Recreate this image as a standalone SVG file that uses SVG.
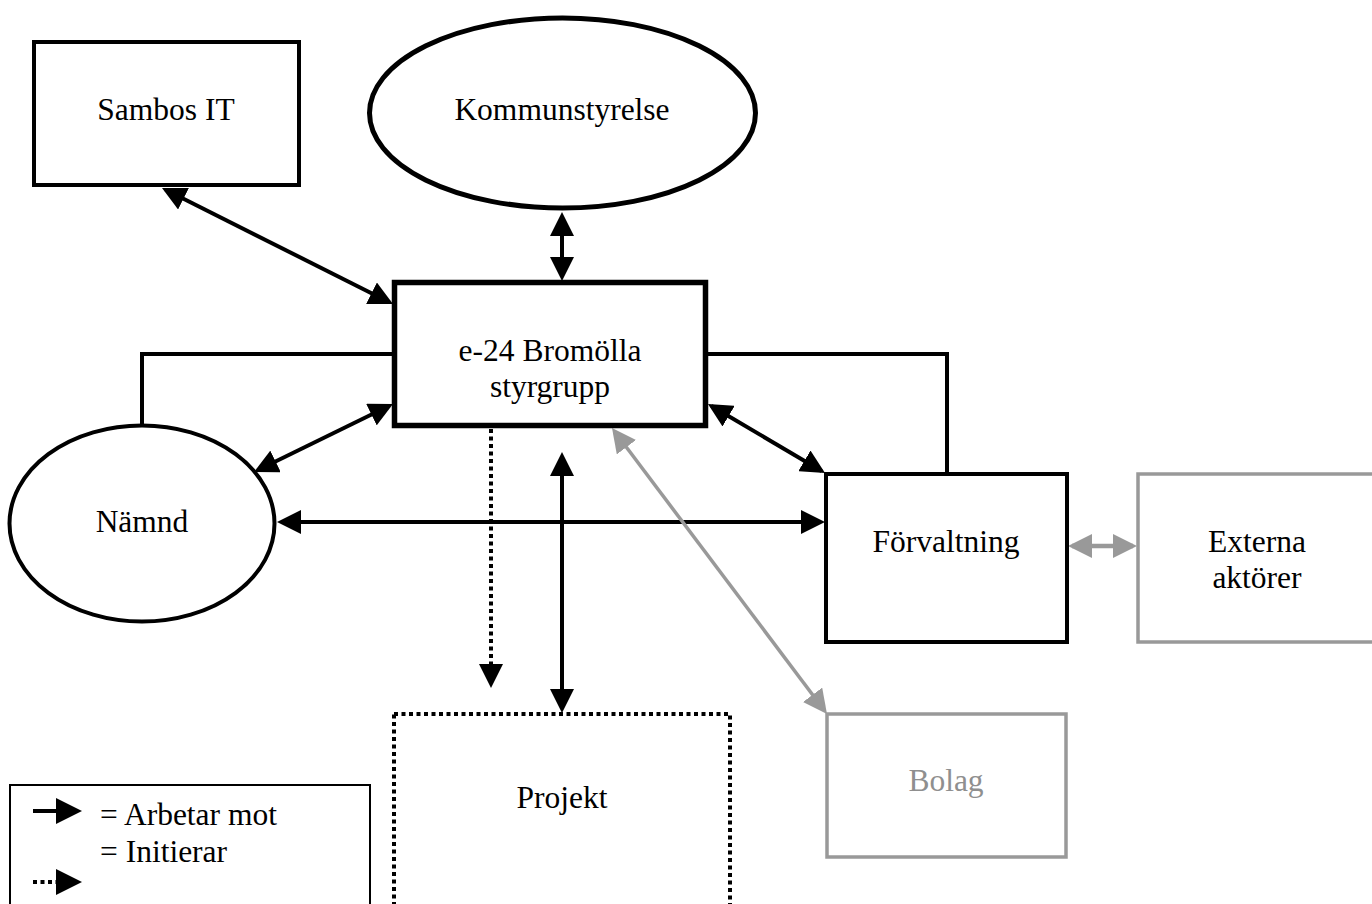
<svg xmlns="http://www.w3.org/2000/svg" width="1372" height="904" viewBox="0 0 1372 904">
<style>
text{font-family:"Liberation Serif","Times New Roman",serif;font-size:31.5px;fill:#000;text-anchor:middle}
.box{fill:#fff;stroke:#000;stroke-width:4}
.gbox{fill:#fff;stroke:#999;stroke-width:3.5}
.gtxt{fill:#8f8f8f}
.con{fill:none;stroke:#000;stroke-width:4}
.gcon{fill:none;stroke:#999;stroke-width:3.5}
.dot{stroke-dasharray:4 3.5;stroke-width:4}
</style>
<defs>
<marker id="ah" viewBox="0 0 24 24" markerWidth="24" markerHeight="24" refX="20" refY="12" orient="auto-start-reverse" markerUnits="userSpaceOnUse"><path d="M0,0 L24,12 L0,24 z" fill="#000"/></marker>
<marker id="ahg" viewBox="0 0 24 24" markerWidth="24" markerHeight="24" refX="20" refY="12" orient="auto-start-reverse" markerUnits="userSpaceOnUse"><path d="M0,0 L24,12 L0,24 z" fill="#999"/></marker>
</defs>
<rect width="1372" height="904" fill="#fff"/>
<g id="connectors">
<path class="con" d="M393,354 H142 V425"/>
<path class="con" d="M706,354 H947 V474"/>
<line class="con" x1="165.6" y1="189.8" x2="389.4" y2="302.2" marker-start="url(#ah)" marker-end="url(#ah)"/>
<line class="con" x1="562" y1="216" x2="562" y2="277" marker-start="url(#ah)" marker-end="url(#ah)"/>
<line class="con" x1="389.4" y1="405.8" x2="257.6" y2="470.2" marker-start="url(#ah)" marker-end="url(#ah)"/>
<line class="con" x1="711.4" y1="406" x2="821.6" y2="471" marker-start="url(#ah)" marker-end="url(#ah)"/>
<line class="con" x1="281" y1="522" x2="821" y2="522" marker-start="url(#ah)" marker-end="url(#ah)"/>
<line class="con" x1="562" y1="456" x2="562" y2="709" marker-start="url(#ah)" marker-end="url(#ah)"/>
<line class="con dot" x1="491" y1="429" x2="491" y2="684" marker-end="url(#ah)"/>
<line class="gcon" x1="614.4" y1="431.2" x2="824.6" y2="710.8" marker-start="url(#ahg)" marker-end="url(#ahg)"/>
<line class="gcon" x1="1072" y1="546" x2="1133" y2="546" style="stroke-width:4.5" marker-start="url(#ahg)" marker-end="url(#ahg)"/>
</g>
<g id="sambos">
<rect class="box" x="34" y="42" width="265" height="143"/>
<text x="166" y="120">Sambos IT</text>
</g>
<g id="kommunstyrelse">
<ellipse class="box" cx="562.5" cy="113" rx="193" ry="95" style="stroke-width:5"/>
<text x="562" y="120">Kommunstyrelse</text>
</g>
<g id="styrgrupp">
<rect class="box" x="394.5" y="282.5" width="311" height="143" style="stroke-width:5.5"/>
<text x="550" y="361">e-24 Bromölla</text>
<text x="550" y="397">styrgrupp</text>
</g>
<g id="namnd">
<ellipse class="box" cx="142" cy="523.5" rx="132.5" ry="98"/>
<text x="142" y="532">Nämnd</text>
</g>
<g id="forvaltning">
<rect class="box" x="826" y="474" width="241" height="168"/>
<text x="946" y="552">Förvaltning</text>
</g>
<g id="externa">
<rect class="gbox" x="1138" y="474" width="240" height="168"/>
<text x="1257" y="552">Externa</text>
<text x="1257" y="588">aktörer</text>
</g>
<g id="bolag">
<rect class="gbox" x="827" y="714" width="239" height="143"/>
<text class="gtxt" x="946" y="791">Bolag</text>
</g>
<g id="projekt">
<rect class="box dot" x="394" y="714" width="336" height="210"/>
<text x="562" y="808">Projekt</text>
</g>
<g id="legend">
<rect x="10" y="785" width="360" height="130" fill="#fff" stroke="#000" stroke-width="2"/>
<line x1="33" y1="811" x2="60" y2="811" stroke="#000" stroke-width="4"/>
<path d="M56,798 L82,811 L56,824 z" fill="#000"/>
<line x1="33" y1="882" x2="56" y2="882" stroke="#000" stroke-width="4" stroke-dasharray="4 3.5"/>
<path d="M56,869 L82,882 L56,895 z" fill="#000"/>
<text x="100" y="825" style="text-anchor:start">= Arbetar mot</text>
<text x="100" y="862" style="text-anchor:start">= Initierar</text>
</g>
</svg>
